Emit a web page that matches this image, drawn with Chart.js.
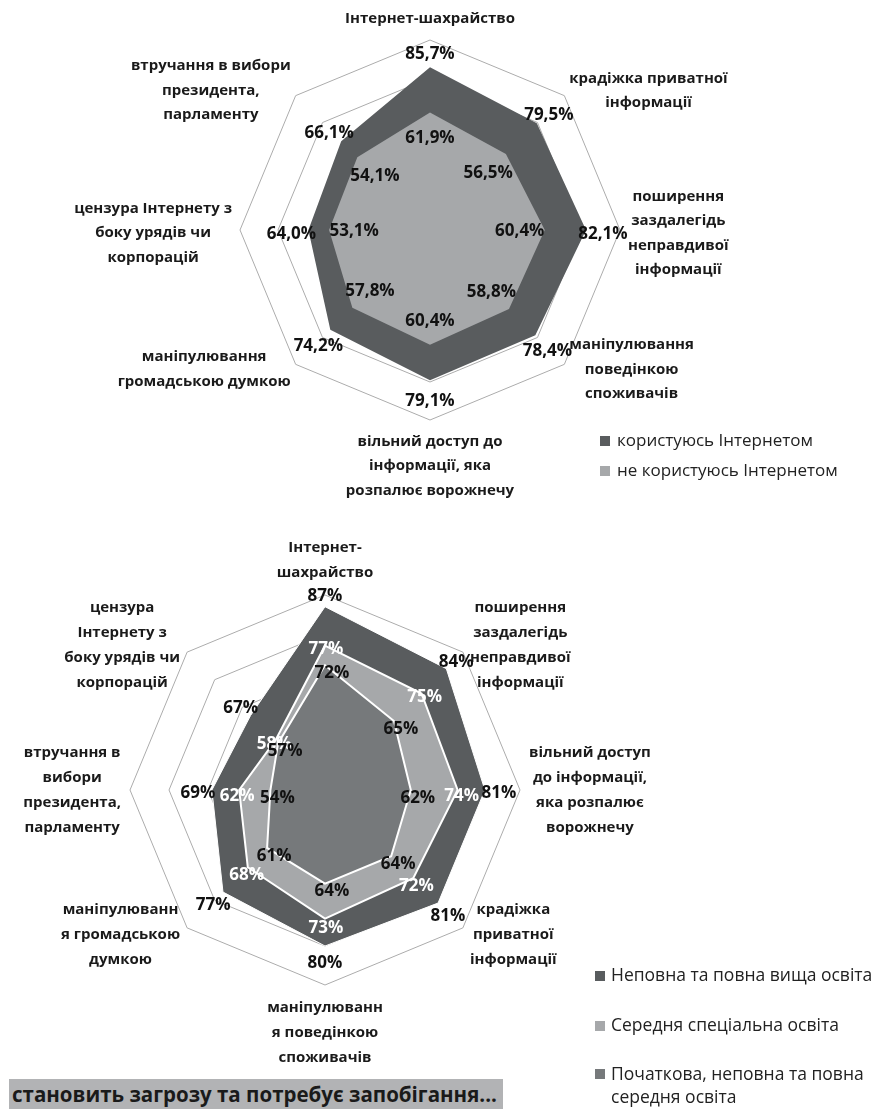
<!DOCTYPE html>
<html lang="uk">
<head>
<meta charset="utf-8">
<script src="https://cdn.jsdelivr.net/npm/chart.js@4.4.1/dist/chart.umd.min.js"></script>
<style>
  body { margin: 0; width: 876px; height: 1110px; background: #fff; position: relative; overflow: hidden; font-family: "Open Sans", sans-serif; color: #1a1a1a; }
  canvas { position: absolute; left: 0; }
  #chartTop { top: 0; }
  #chartBottom { top: 540px; }
  .legend { position: absolute; color: #222; }
  .legend div { position: absolute; left: 0; white-space: nowrap; }
  .legend span { position: absolute; width: 10px; height: 10px; }
  #legendTop { left: 600px; top: 0; font-size: 17px; }
  #legendTop div { padding-left: 17px; }
  #legendBottom { left: 595px; top: 0; font-size: 17.5px; }
  #legendBottom div { padding-left: 16px; }
  .banner { position: absolute; left: 9px; top: 1079px; width: 494px; height: 30px; background: #b2b3b5; font-weight: bold; font-size: 20.5px; line-height: 30px; padding-left: 3px; box-sizing: border-box; white-space: nowrap; color: #1a1a1a; }
</style>
</head>
<body>
<canvas id="chartTop" width="876" height="540"></canvas>
<canvas id="chartBottom" width="876" height="570"></canvas>

<div class="legend" id="legendTop">
  <div style="top:428px"><span style="left:0;top:8px;background:#595c5e"></span>користуюсь Інтернетом</div>
  <div style="top:458px"><span style="left:0;top:8px;background:#a6a8aa"></span>не користуюсь Інтернетом</div>
</div>
<div class="legend" id="legendBottom">
  <div style="top:962px"><span style="left:0;top:9px;background:#595c5e"></span>Неповна та повна вища освіта</div>
  <div style="top:1012px"><span style="left:0;top:9px;background:#a6a8aa"></span>Середня спеціальна освіта</div>
  <div style="top:1062px;line-height:23px"><span style="left:0;top:7px;background:#76797b"></span>Початкова, неповна та повна<br>середня освіта</div>
</div>

<div class="banner">становить загрозу та потребує запобігання...</div>

<script>
/* DATA: top chart (Internet users vs non-users) */
var topCategories = [
  ['Інтернет-шахрайство'],
  ['крадіжка приватної', 'інформації'],
  ['поширення', 'заздалегідь', 'неправдивої', 'інформації'],
  ['маніпулювання', 'поведінкою', 'споживачів'],
  ['вільний доступ до', 'інформації, яка', 'розпалює ворожнечу'],
  ['маніпулювання', 'громадською думкою'],
  ['цензура Інтернету з', 'боку урядів чи', 'корпорацій'],
  ['втручання в вибори', 'президента,', 'парламенту']
];
var topUsers = [85.7, 79.5, 82.1, 78.4, 79.1, 74.2, 64.0, 66.1];
var topNonUsers = [61.9, 56.5, 60.4, 58.8, 60.4, 57.8, 53.1, 54.1];
var topTicks = { min: 0, max: 100, step: 20 };

/* DATA: bottom chart (by education) */
var bottomCategories = [
  ['Інтернет-', 'шахрайство'],
  ['поширення', 'заздалегідь', 'неправдивої', 'інформації'],
  ['вільний доступ', 'до інформації,', 'яка розпалює', 'ворожнечу'],
  ['крадіжка', 'приватної', 'інформації'],
  ['маніпулюванн', 'я поведінкою', 'споживачів'],
  ['маніпулюванн', 'я громадською', 'думкою'],
  ['втручання в', 'вибори', 'президента,', 'парламенту'],
  ['цензура', 'Інтернету з', 'боку урядів чи', 'корпорацій']
];
var eduHigher = [87, 84, 81, 81, 80, 77, 69, 67];
var eduSpecial = [77, 75, 74, 72, 73, 68, 62, 58];
var eduBasic = [72, 65, 62, 64, 64, 61, 54, 57];
var bottomTicks = { min: 40, max: 90, step: 10 };

// plugin that writes category names and value labels around the radar
function makeLabelPlugin(cfg) {
  return {
    id: 'radarLabels',
    afterDatasetsDraw: function(chart) {
      var ctx = chart.ctx;
      var scale = chart.scales.r;
      ctx.save();
      ctx.textAlign = 'center';
      ctx.textBaseline = 'middle';

      // category names
      ctx.font = cfg.catFont;
      ctx.fillStyle = '#1a1a1a';
      chart.data.labels.forEach(function(lines, i) {
        var a = scale.getPointPosition(i, 1);
        var cos = Math.cos(a.angle), sin = Math.sin(a.angle);
        var vertical = Math.abs(cos) < 0.1, horizontal = Math.abs(sin) < 0.1;
        var pad = vertical ? cfg.padV : (horizontal ? cfg.padH : cfg.padD);
        var p = scale.getPointPosition(i, scale.drawingArea + pad);
        var w = 0;
        lines.forEach(function(t) { w = Math.max(w, ctx.measureText(t).width); });
        var h = lines.length * cfg.lineHeight;
        var cx = p.x, cy = p.y;
        if (vertical) {
          cy += (sin > 0 ? 1 : -1) * h / 2;
        } else {
          cx += (cos > 0 ? 1 : -1) * w / 2;
          if (horizontal) cy += cfg.sideDy;
        }
        lines.forEach(function(t, k) {
          ctx.fillText(t, cx, cy - h / 2 + cfg.lineHeight * (k + 0.5));
        });
      });

      // value labels
      ctx.font = cfg.valueFont;
      chart.data.datasets.forEach(function(ds, d) {
        var lab = cfg.values[d];
        ctx.fillStyle = lab.color;
        ds.data.forEach(function(v, i) {
          var p = scale.getPointPosition(i, scale.getDistanceFromCenterForValue(v) + lab.offset);
          ctx.fillText(cfg.format(v), p.x + lab.dx, p.y + lab.dy);
        });
      });
      ctx.restore();
    }
  };
}

function radarScale(t) {
  return {
    r: {
      min: t.min,
      max: t.max,
      ticks: { stepSize: t.step, display: false },
      grid: { color: '#acacac', lineWidth: 1 },
      angleLines: { display: false },
      pointLabels: { display: false }
    }
  };
}

// Top chart
var ctxTop = document.getElementById('chartTop').getContext('2d');
var chartTop = new Chart(ctxTop, {
  type: 'radar',
  data: {
    labels: topCategories,
    datasets: [{
      label: 'користуюсь Інтернетом',
      data: topUsers,
      backgroundColor: '#595c5e',
      borderWidth: 0,
      pointRadius: 0,
      fill: true,
      order: 2
    }, {
      label: 'не користуюсь Інтернетом',
      data: topNonUsers,
      backgroundColor: '#a6a8aa',
      borderWidth: 0,
      pointRadius: 0,
      fill: true,
      order: 1
    }]
  },
  options: {
    responsive: false,
    animation: false,
    devicePixelRatio: 1,
    layout: { padding: { left: 240, right: 256, top: 40, bottom: 120 } },
    plugins: { legend: { display: false }, tooltip: { enabled: false } },
    scales: radarScale(topTicks)
  },
  plugins: [makeLabelPlugin({
    catFont: 'bold 15px "Open Sans"',
    valueFont: 'bold 17px "Open Sans"',
    padV: 9,
    padH: 8,
    padD: 7,
    sideDy: 3,
    lineHeight: 24.5,
    format: function(v) { return v.toFixed(1).replace('.', ',') + '%'; },
    values: [
      { color: '#111', offset: 17, dx: 0, dy: 4 },
      { color: '#111', offset: -25, dx: 0, dy: 1 }
    ]
  })]
});

// Bottom chart
var ctxBottom = document.getElementById('chartBottom').getContext('2d');
var chartBottom = new Chart(ctxBottom, {
  type: 'radar',
  data: {
    labels: bottomCategories,
    datasets: [{
      label: 'Неповна та повна вища освіта',
      data: eduHigher,
      backgroundColor: '#595c5e',
      borderColor: '#ffffff',
      borderWidth: 1,
      pointRadius: 0,
      fill: true,
      order: 3
    }, {
      label: 'Середня спеціальна освіта',
      data: eduSpecial,
      backgroundColor: '#a6a8aa',
      borderColor: '#ffffff',
      borderWidth: 2,
      pointRadius: 0,
      fill: true,
      order: 2
    }, {
      label: 'Початкова, неповна та повна середня освіта',
      data: eduBasic,
      backgroundColor: '#76797b',
      borderColor: '#ffffff',
      borderWidth: 2,
      pointRadius: 0,
      fill: true,
      order: 1
    }]
  },
  options: {
    responsive: false,
    animation: false,
    devicePixelRatio: 1,
    layout: { padding: { left: 130, right: 356, top: 55, bottom: 125 } },
    plugins: { legend: { display: false }, tooltip: { enabled: false } },
    scales: radarScale(bottomTicks)
  },
  plugins: [makeLabelPlugin({
    catFont: 'bold 15px "Open Sans"',
    valueFont: 'bold 17px "Open Sans"',
    padV: 10,
    padH: 9,
    padD: 10,
    sideDy: 0,
    lineHeight: 25,
    format: function(v) { return v + '%'; },
    values: [
      { color: '#111', offset: 14, dx: 0, dy: 3 },
      { color: '#ffffff', offset: 3, dx: 1, dy: 6 },
      { color: '#111', offset: 0, dx: 7, dy: 8 }
    ]
  })]
});
</script>
</body>
</html>
